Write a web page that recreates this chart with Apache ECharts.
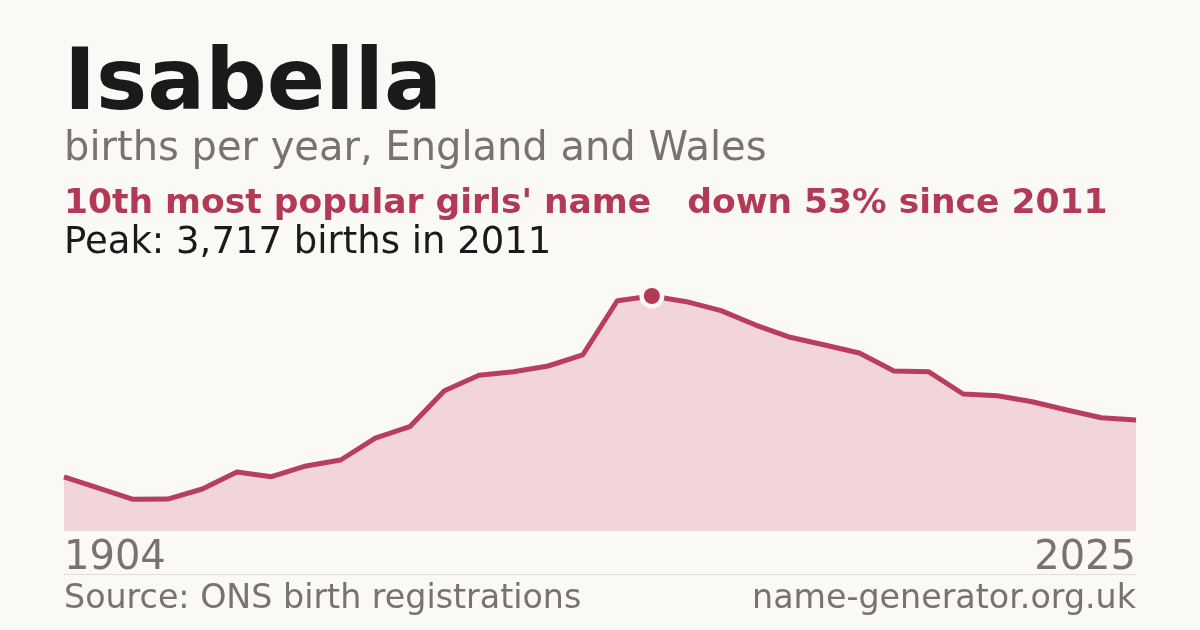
<!DOCTYPE html>
<html>
<head>
<meta charset="utf-8">
<script src="https://cdn.jsdelivr.net/npm/echarts@6/dist/echarts.min.js"></script>
<style>
html,body{margin:0;padding:0;background:#faf9f5;}
#chart{width:1200px;height:630px;}
</style>
</head>
<body>
<div id="chart"></div>
<script>
const years = [1904, 1995, 1996, 1997, 1998, 1999, 2000, 2001, 2002, 2003, 2004, 2005, 2006, 2007, 2008, 2009, 2010, 2011, 2012, 2013, 2014, 2015, 2016, 2017, 2018, 2019, 2020, 2021, 2022, 2023, 2024, 2025];
const births = [842, 667, 488, 492, 651, 921, 847, 1017, 1112, 1461, 1641, 2213, 2457, 2515, 2605, 2780, 3642, 3717, 3627, 3484, 3256, 3061, 2939, 2812, 2526, 2515, 2160, 2133, 2038, 1906, 1784, 1747];
const titleText = 'Isabella';
const subtitleText = 'births per year, England and Wales';
const rankText = "10th most popular girls' name   down 53% since 2011";
const peakText = 'Peak: 3,717 births in 2011';
const sourceText = 'Source: ONS birth registrations';
const siteText = 'name-generator.org.uk';

const FONT = '"DejaVu Sans", sans-serif';
const RED = '#b23a56';
const GREY = '#78736c';
const chart = echarts.init(document.getElementById('chart'));
chart.setOption({
  backgroundColor: '#faf9f5',
  animation: false,
  grid: { left: 64, right: 64, top: 296, bottom: 100 },
  xAxis: {
    type: 'category',
    data: years,
    boundaryGap: false,
    axisLine: { show: true, lineStyle: { color: '#e2ded6', width: 1 } },
    axisTick: { show: false },
    splitLine: { show: false },
    axisLabel: {
      interval: function (i) { return i === 0 || i === years.length - 1; },
      fontFamily: FONT, fontSize: 40, color: GREY, margin: 9,
      alignMinLabel: 'left', alignMaxLabel: 'right'
    }
  },
  yAxis: {
    type: 'value', min: 0, max: Math.max.apply(null, births),
    show: false, splitLine: { show: false }
  },
  series: [{
    type: 'line',
    data: births,
    symbol: 'none',
    lineStyle: { color: '#b83e5e', width: 5 },
    areaStyle: { color: '#f1d5da', opacity: 1 },
    z: 2,
    markPoint: {
      silent: true,
      label: { show: false },
      data: [
        { type: 'max', symbol: 'circle', symbolSize: 25, itemStyle: { color: '#faf9f5' } },
        { type: 'max', symbol: 'circle', symbolSize: 16, itemStyle: { color: '#b3395a' } }
      ]
    }
  }],
  graphic: [
    { type: 'text', left: 64, top: 44, style: { text: titleText, font: 'bold 86px ' + FONT, fill: '#1a1a1a' } },
    { type: 'text', left: 64, top: 130, style: { text: subtitleText, font: '40px ' + FONT, fill: GREY } },
    { type: 'text', left: 64, top: 187, style: { text: rankText, font: 'bold 34.5px ' + FONT, fill: RED } },
    { type: 'text', left: 64, top: 225, style: { text: peakText, font: '37px ' + FONT, fill: '#1a1a1a' } },
    { type: 'line', shape: { x1: 64, y1: 574.5, x2: 1136, y2: 574.5 }, style: { stroke: '#e2ded6', lineWidth: 1 } },
    { type: 'text', left: 64, top: 583, style: { text: sourceText, font: '33.3px ' + FONT, fill: GREY } },
    { type: 'text', right: 64, top: 583, style: { text: siteText, font: '33.3px ' + FONT, fill: GREY } }
  ]
});
</script>
</body>
</html>
